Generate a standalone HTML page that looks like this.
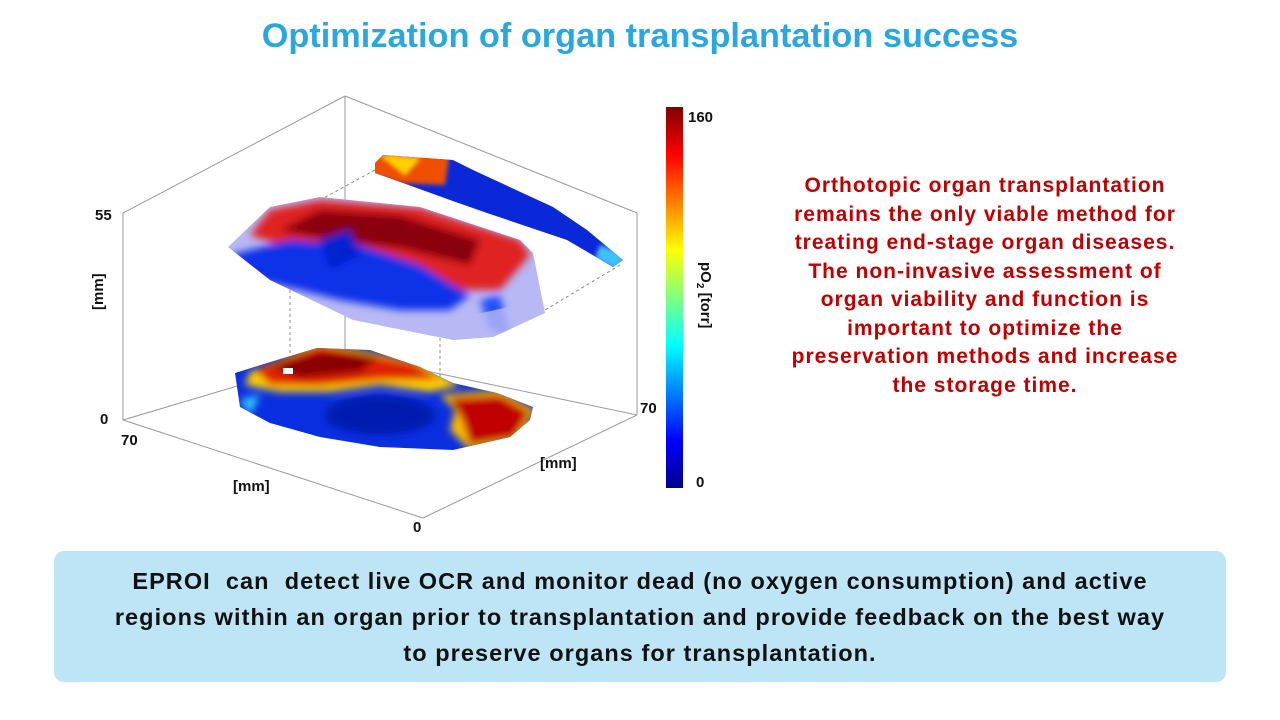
<!DOCTYPE html>
<html><head><meta charset="utf-8"><style>
html,body{margin:0;padding:0;background:#fff;}
body{width:1280px;height:720px;position:relative;overflow:hidden;font-family:"Liberation Sans",sans-serif;}
.t{position:absolute;white-space:nowrap;}
#title{left:0;width:1280px;text-align:center;top:17px;font-size:34.3px;font-weight:bold;color:#2aa7df;}
#para{left:735px;width:500px;text-align:center;top:172px;font-size:21px;letter-spacing:1px;font-weight:bold;color:#c00000;line-height:28.5px;}
#box{position:absolute;left:54px;top:551px;width:1172px;height:131px;background:#bee5f5;border-radius:10px;}
#btxt{left:54px;width:1172px;text-align:center;top:563px;font-size:23.5px;letter-spacing:1.05px;font-weight:bold;color:#111;line-height:36px;}
.lb{position:absolute;font-size:15px;font-weight:bold;color:#111;}
</style></head><body>
<div class="t" id="title">Optimization of organ transplantation success</div>
<svg width="1280" height="720" style="position:absolute;left:0;top:0">
<defs>
<filter id="bl" x="-20%" y="-20%" width="140%" height="140%"><feGaussianBlur stdDeviation="4"/></filter>
<filter id="bl2" x="-20%" y="-20%" width="140%" height="140%"><feGaussianBlur stdDeviation="2"/></filter>
<linearGradient id="cb" x1="0" y1="1" x2="0" y2="0">
<stop offset="0" stop-color="#00008f"/><stop offset="0.125" stop-color="#0000ff"/><stop offset="0.375" stop-color="#00ffff"/><stop offset="0.5" stop-color="#80ff80"/><stop offset="0.625" stop-color="#ffff00"/><stop offset="0.875" stop-color="#ff0000"/><stop offset="1" stop-color="#800000"/>
</linearGradient>
<clipPath id="lowc"><polygon points="235,373 277,360 317,348 370,350 420,367 453,383 497,393 533,407 530,420 510,437 453,450 380,447 320,437 270,423 240,407"/></clipPath>
<clipPath id="upc"><polygon points="228,247 270,207 320,197 420,207 520,240 533,253 545,313 493,337 453,340 353,320 270,280"/></clipPath>
<clipPath id="stc"><polygon points="375,163 383,155 453,160 473,170 553,207 587,230 623,260 613,267 567,240 487,213 450,200 403,183 375,173"/></clipPath>
</defs>
<g stroke="#999" stroke-width="1" fill="none">
<line x1="123" y1="213" x2="123" y2="420"/><line x1="123" y1="213" x2="345" y2="96"/><line x1="345" y1="96" x2="637" y2="213"/><line x1="637" y1="213" x2="637" y2="415"/>
<line x1="345" y1="96" x2="345" y2="354"/><line x1="123" y1="420" x2="345" y2="354"/><line x1="345" y1="354" x2="637" y2="415"/>
<line x1="123" y1="420" x2="423" y2="518"/><line x1="423" y1="518" x2="637" y2="415"/>
</g>
<g stroke="#888" stroke-dasharray="3,3" fill="none"><line x1="290" y1="290" x2="290" y2="380"/><line x1="440" y1="332" x2="440" y2="400"/><line x1="375" y1="170" x2="320" y2="200"/><line x1="620" y1="265" x2="545" y2="310"/></g>
<g clip-path="url(#lowc)">
<rect x="220" y="340" width="330" height="120" fill="#0a2fe0"/>
<g filter="url(#bl)">
<polygon points="250,372 320,342 420,362 460,385 430,392 380,385 330,392 280,392 245,385" fill="#ffd000"/>
<polygon points="255,370 320,345 415,363 440,380 380,380 320,386 270,385" fill="#e02000"/>
<polygon points="270,365 320,352 380,356 360,372 300,378" fill="#8a0000"/>
<polygon points="440,395 500,390 535,410 520,440 470,450 450,430 455,410" fill="#ffc000"/>
<polygon points="450,398 500,395 530,412 515,438 470,445 462,420" fill="#c00000"/>
<ellipse cx="380" cy="415" rx="55" ry="20" fill="#001cb0"/>
<polygon points="240,400 260,395 250,415" fill="#30d0ff"/>
</g>
<rect x="283" y="368" width="10" height="6" fill="#fff"/>
</g>
<g clip-path="url(#upc)">
<rect x="220" y="190" width="340" height="160" fill="#b8b8f4"/>
<g filter="url(#bl)">
<polygon points="250,235 270,210 320,200 420,208 520,240 530,255 500,290 460,290 420,270 380,255 330,250 280,245" fill="#e02020"/>
<polygon points="280,230 320,210 400,215 480,240 470,265 400,248 330,240" fill="#8a0010" />
<polygon points="230,255 290,240 360,245 420,265 470,295 450,310 400,310 340,300 300,290 255,280" fill="#0a30e8"/>
<polygon points="320,240 350,230 360,255 330,270" fill="#0020d0"/>
<polygon points="480,300 500,295 510,335 490,330" fill="#2050ff"/>
</g>
<polygon points="450,320 540,300 545,313 493,337 453,340" fill="#b8b8f4" opacity="0.8"/>
</g>
<g clip-path="url(#stc)">
<rect x="370" y="150" width="260" height="120" fill="#0a28d8"/>
<g filter="url(#bl2)"><polygon points="370,150 450,150 445,185 400,183 370,175" fill="#f05000"/><polygon points="380,155 420,158 405,175" fill="#ffd000"/><polygon points="600,245 630,255 615,270 595,258" fill="#40c0ff"/></g>
</g>
<rect x="666" y="107" width="17" height="381" fill="url(#cb)"/>
</svg>
<div class="lb" style="left:95px;top:207px">55</div>
<div class="lb" style="left:100px;top:411px">0</div>
<div class="lb" style="left:121px;top:432px">70</div>
<div class="lb" style="left:233px;top:478px">[mm]</div>
<div class="lb" style="left:413px;top:519px">0</div>
<div class="lb" style="left:540px;top:455px">[mm]</div>
<div class="lb" style="left:640px;top:400px">70</div>
<div class="lb" style="left:688px;top:109px">160</div>
<div class="lb" style="left:696px;top:474px">0</div>
<div class="lb" style="left:90px;top:310px;transform:rotate(-90deg);transform-origin:left top;">[mm]</div>
<div class="lb" style="left:714px;top:262px;transform:rotate(90deg);transform-origin:left top;">pO<sub style="font-size:10px">2</sub> [torr]</div>
<div class="t" id="para">Orthotopic organ transplantation<br>remains the only viable method for<br>treating end-stage organ diseases.<br>The non-invasive assessment of<br>organ viability and function is<br>important to optimize the<br>preservation methods and increase<br>the storage time.</div>
<div id="box"></div>
<svg width="1280" height="720" style="position:absolute;left:0;top:0"><polygon points="400,551 410,560 472,560 480,551" fill="#bee5f5"/></svg>
<div class="t" id="btxt">EPROI &nbsp;can &nbsp;detect live OCR and monitor dead (no oxygen consumption) and active<br>regions within an organ prior to transplantation and provide feedback on the best way<br>to preserve organs for transplantation.</div>
</body></html>
